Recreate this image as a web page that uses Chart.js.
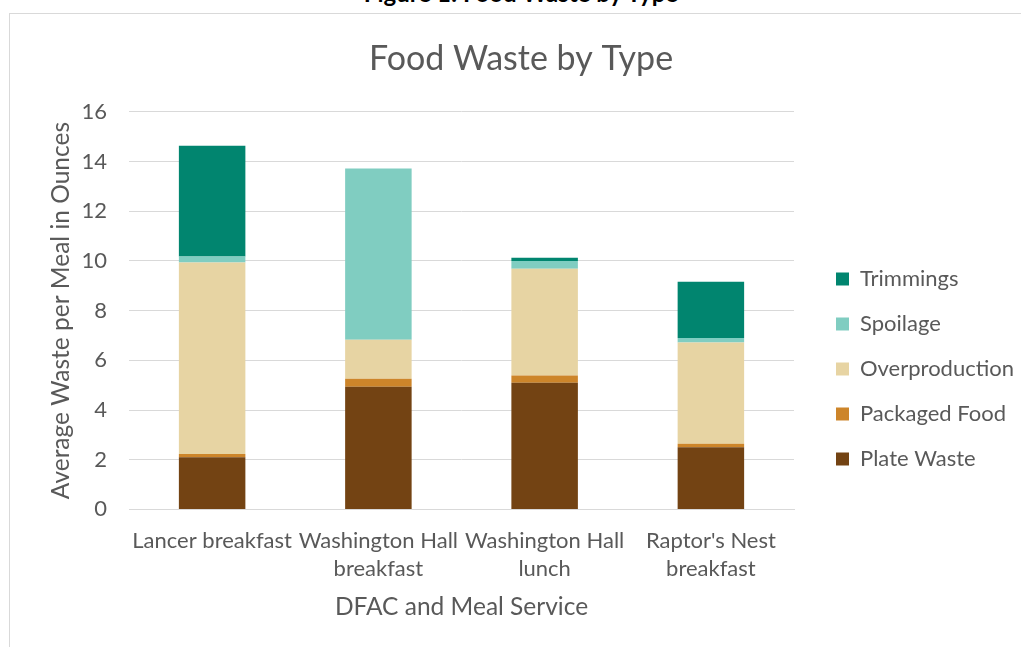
<!DOCTYPE html>
<html>
<head>
<meta charset="utf-8">
<script src="https://cdn.jsdelivr.net/npm/chart.js@4.4.0/dist/chart.umd.min.js"></script>
<style>
  html, body { margin: 0; padding: 0; background: #fff; overflow: hidden; }
  #caption {
    position: absolute; left: 0; width: 1042px; top: -22px;
    text-align: center; font: bold 24px Lato, sans-serif; color: #000;
  }
  #frame {
    position: absolute; left: 9px; top: 13px; width: 1030px; height: 660px;
    border: 1px solid #d9d9d9;
  }
  #wrap { position: absolute; left: 10px; top: 14px; width: 1011px; height: 633px; }
</style>
</head>
<body>
<div id="caption">Figure 1: Food Waste by Type</div>
<div id="frame"></div>
<div id="wrap"><canvas id="myChartbar"></canvas></div>
<script>
const labels = [["Lancer breakfast"], ["Washington Hall", "breakfast"], ["Washington Hall", "lunch"], ["Raptor's Nest", "breakfast"]];
const plateWaste = [2.10, 4.94, 5.10, 2.50];
const packagedFood = [0.13, 0.32, 0.29, 0.14];
const overproduction = [7.71, 1.57, 4.29, 4.08];
const spoilage = [0.24, 6.89, 0.32, 0.18];
const trimmings = [4.45, 0, 0.13, 2.26];
const yTicks = [0, 2, 4, 6, 8, 10, 12, 14, 16];

const textColor = '#595959';
const font = 'Lato, sans-serif';

// push the legend a bit further away from the plot
const legendShift = {
    id: 'legendShift',
    afterLayout(chart) {
        chart.legend.left += 19;
        chart.legend.right += 19;
    }
};

let bar = document.getElementById('myChartbar').getContext('2d');
let myBarChart = new Chart(bar, {
    type: 'bar',
    data: {
        labels: labels,
        datasets: [
            { label: 'Plate Waste', data: plateWaste, backgroundColor: '#734313' },
            { label: 'Packaged Food', data: packagedFood, backgroundColor: '#cd852a' },
            { label: 'Overproduction', data: overproduction, backgroundColor: '#e7d4a3' },
            { label: 'Spoilage', data: spoilage, backgroundColor: '#80cdc1' },
            { label: 'Trimmings', data: trimmings, backgroundColor: '#01856f' }
        ]
    },
    plugins: [legendShift],
    options: {
        responsive: true,
        maintainAspectRatio: false,
        animation: false,
        datasets: { bar: { barPercentage: 0.4, categoryPercentage: 1 } },
        layout: { padding: { left: 27, right: 16, bottom: 21, top: 0 } },
        plugins: {
            title: {
                display: true,
                text: 'Food Waste by Type',
                color: textColor,
                font: { family: font, size: 34, weight: 'normal' },
                padding: { top: 25, bottom: 32 }
            },
            legend: {
                position: 'right',
                reverse: true,
                title: {
                    display: true,
                    text: ' ',
                    font: { family: font, size: 20 },
                    padding: { top: 0, bottom: 74 }
                },
                labels: {
                    color: textColor,
                    font: { family: font, size: 22 },
                    boxWidth: 13,
                    boxHeight: 13,
                    padding: 23
                }
            },
            tooltip: { enabled: false }
        },
        scales: {
            x: {
                stacked: true,
                grid: { display: false },
                border: { color: '#d9d9d9' },
                ticks: {
                    color: textColor,
                    font: { family: font, size: 22, lineHeight: 1.3 },
                    maxRotation: 0,
                    autoSkip: false,
                    padding: 9
                },
                title: {
                    display: true,
                    text: 'DFAC and Meal Service',
                    color: textColor,
                    font: { family: font, size: 24.5 },
                    padding: { top: 0 }
                }
            },
            y: {
                stacked: true,
                min: 0,
                max: 16,
                afterBuildTicks: function(scale) {
                    scale.ticks = yTicks.map(v => ({ value: v }));
                },
                afterFit: function(scale) {
                    scale.width = 92;
                },
                grid: { color: '#d9d9d9', drawTicks: false },
                border: { display: false },
                ticks: {
                    color: textColor,
                    font: { family: font, size: 22 },
                    padding: 22
                },
                title: {
                    display: true,
                    text: 'Average Waste per Meal in Ounces',
                    color: textColor,
                    font: { family: font, size: 24.5 },
                    padding: { top: 9, bottom: 0 }
                }
            }
        }
    }
});
</script>
</body>
</html>
